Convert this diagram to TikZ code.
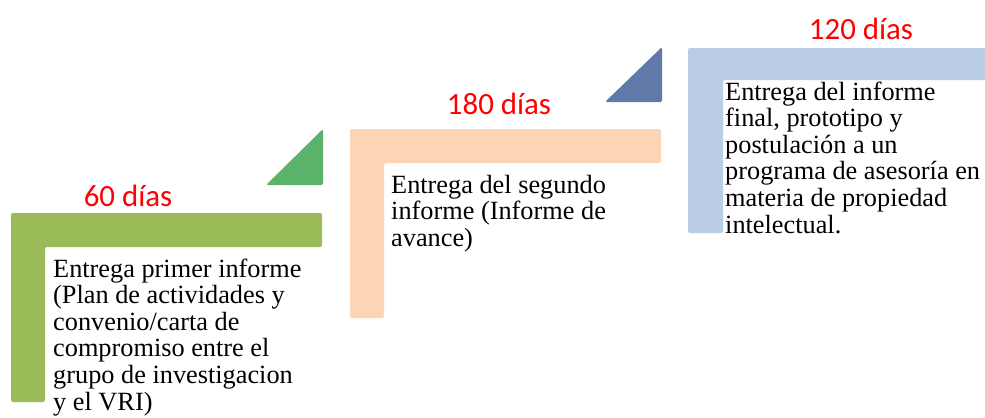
\documentclass[tikz,border=0pt]{standalone}
\usepackage{fontspec}
\setmainfont{Liberation Serif}
\newfontfamily\labelfont{Carlito}
\definecolor{gbar}{HTML}{9BBB59}
\definecolor{gtri}{HTML}{5BB36A}
\definecolor{pbar}{HTML}{FBD5B5}
\definecolor{btri}{HTML}{6079A9}
\definecolor{bbar}{HTML}{B9CDE5}
\newcommand\linestack[1]{\begin{tabular}[t]{@{}l@{}}#1\end{tabular}}
\tikzset{
  lbar/.style={fill=#1, draw=none, rounded corners=2bp},
  tri/.style={fill=#1, draw=none, rounded corners=1.5bp},
  days/.style={anchor=base, text=red, font=\labelfont\fontsize{31}{31}\selectfont, inner sep=0pt},
  body/.style={anchor=base west, inner sep=0pt, font=\fontsize{26.4}{26.7}\selectfont}
}
\begin{document}
\begin{tikzpicture}[x=1bp,y=-1bp]
\clip (0,0) rectangle (985,417);
\fill[white] (0,0) rectangle (985,417);
% green
\fill[lbar=gbar] (11,213) -- (322,213) -- (322,247) -- (45,247) -- (45,402) -- (11,402) -- cycle;
\fill[tri=gtri] (266,185) -- (323,129) -- (323,185) -- cycle;
\node[days] (d60) at (128,206) {60 días};
\node[body] (t1) at (53,277) {\linestack{Entrega primer informe\\(Plan de actividades y\\convenio/carta de\\compromiso entre el\\grupo de investigacion\\y el VRI)}};
% peach
\fill[lbar=pbar] (350,129) -- (661,129) -- (661,163) -- (384,163) -- (384,318) -- (350,318) -- cycle;
\fill[tri=btri] (605,102) -- (662,47) -- (662,102) -- cycle;
\node[days] (d180) at (499,114) {180 días};
\node[body] (t2) at (391,193) {\linestack{Entrega del segundo\\informe (Informe de\\avance)}};
% blue
\fill[lbar=bbar] (688,48) -- (990,48) -- (990,80) -- (723,80) -- (723,233) -- (688,233) -- cycle;
\node[days] (d120) at (861,39) {120 días};
\node[body] (t3) at (725,100) {\linestack{Entrega del informe\\final, prototipo y\\postulación a un\\programa de asesoría en\\materia de propiedad\\intelectual.}};
\end{tikzpicture}
\end{document}
